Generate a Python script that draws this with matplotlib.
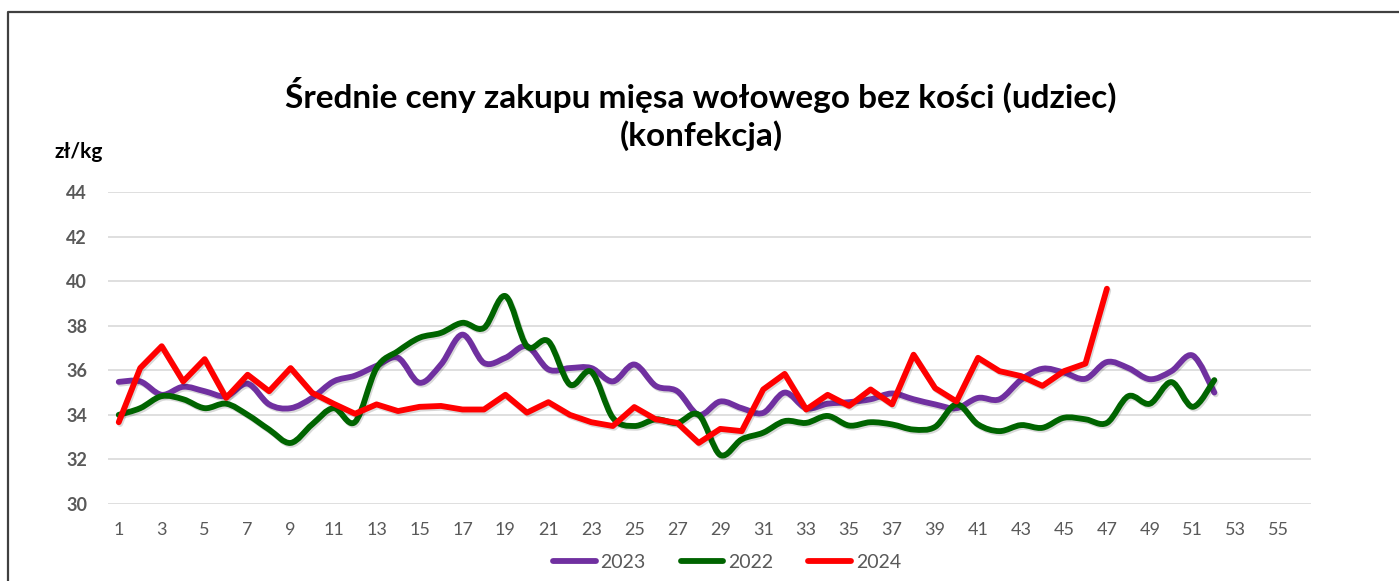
import matplotlib.pyplot as plt
import matplotlib.patheffects as pe
from matplotlib.path import Path
from matplotlib.patches import PathPatch
from matplotlib.lines import Line2D

plt.rcParams['font.family'] = ['Lato', 'DejaVu Sans']

# tygodnie i ceny (zł/kg)
weeks_2023 = list(range(1, 53))
ceny_2023 = [35.48, 35.5, 34.9, 35.26, 35.06, 34.84, 35.4, 34.47, 34.3, 34.76,
             35.5, 35.76, 36.2, 36.56, 35.44, 36.26, 37.6, 36.33, 36.56, 37.08,
             36.04, 36.1, 36.1, 35.5, 36.26, 35.3, 35.06, 34.0, 34.6, 34.3,
             34.09, 35.0, 34.3, 34.5, 34.57, 34.7, 34.96, 34.7, 34.47, 34.3,
             34.76, 34.7, 35.57, 36.07, 35.9, 35.62, 36.37, 36.1, 35.6, 35.96,
             36.66, 35.0]

weeks_2022 = list(range(1, 53))
ceny_2022 = [34.0, 34.3, 34.84, 34.7, 34.3, 34.5, 34.0, 33.34, 32.74, 33.57,
             34.3, 33.68, 36.1, 36.86, 37.46, 37.68, 38.13, 37.9, 39.33, 37.08,
             37.3, 35.36, 35.93, 33.87, 33.5, 33.8, 33.64, 34.0, 32.2, 32.9,
             33.2, 33.72, 33.64, 33.95, 33.52, 33.67, 33.57, 33.34, 33.46, 34.47,
             33.57, 33.27, 33.54, 33.42, 33.87, 33.8, 33.64, 34.84, 34.5, 35.47,
             34.36, 35.56]

weeks_2024 = list(range(1, 48))
ceny_2024 = [33.67, 36.1, 37.08, 35.5, 36.5, 34.76, 35.8, 35.06, 36.1, 34.99,
             34.5, 34.05, 34.47, 34.17, 34.36, 34.4, 34.24, 34.24, 34.9, 34.1,
             34.57, 34.0, 33.67, 33.5, 34.35, 33.8, 33.64, 32.74, 33.37, 33.27,
             35.14, 35.84, 34.24, 34.9, 34.4, 35.14, 34.47, 36.7, 35.2, 34.6,
             36.56, 35.96, 35.74, 35.3, 35.96, 36.3, 39.66]

x_ticks = list(range(1, 56, 2))
y_ticks = [30, 32, 34, 36, 38, 40, 42, 44]

FIOLET = '#7030A0'
ZIELEN = '#006400'
CZERWIEN = '#FF0000'
SZARY = '#595959'


def smooth_path(x, y):
    # krzywa Beziera przez punkty, jak "wygładzona linia" w Excelu
    pts = list(zip(x, y))
    verts = [pts[0]]
    codes = [Path.MOVETO]
    n = len(pts)
    for i in range(n - 1):
        p0 = pts[i - 1] if i > 0 else pts[i]
        p1 = pts[i]
        p2 = pts[i + 1]
        p3 = pts[i + 2] if i + 2 < n else pts[i + 1]
        c1 = (p1[0] + (p2[0] - p0[0]) / 6, p1[1] + (p2[1] - p0[1]) / 6)
        c2 = (p2[0] - (p3[0] - p1[0]) / 6, p2[1] - (p3[1] - p1[1]) / 6)
        verts += [c1, c2, p2]
        codes += [Path.CURVE4] * 3
    return Path(verts, codes)


cien = [pe.SimpleLineShadow(offset=(1.0, -1.3), shadow_color='black', alpha=0.15), pe.Normal()]
LW = 4.2

fig = plt.figure(figsize=(13.99, 5.81), dpi=100)
ax = fig.add_axes([108 / 1399, 1 - 504 / 581, (1311 - 108) / 1399, (504 - 192) / 581])

ax.add_patch(PathPatch(smooth_path(weeks_2023, ceny_2023), fill=False, edgecolor=FIOLET,
                       lw=LW, capstyle='round', joinstyle='round', path_effects=cien, zorder=3))
ax.add_patch(PathPatch(smooth_path(weeks_2022, ceny_2022), fill=False, edgecolor=ZIELEN,
                       lw=LW, capstyle='round', joinstyle='round', path_effects=cien, zorder=3))
ax.plot(weeks_2024, ceny_2024, color=CZERWIEN, lw=LW, solid_capstyle='round',
        solid_joinstyle='round', path_effects=cien, zorder=4)

ax.set_xlim(0.5, 56.5)
ax.set_ylim(30, 44)
ax.set_xticks(x_ticks)
ax.set_yticks(y_ticks)
ax.tick_params(length=0)
ax.tick_params(axis='x', labelsize=13, labelcolor=SZARY, pad=13)
ax.tick_params(axis='y', labelsize=13, labelcolor=SZARY, pad=15)
for lab in ax.get_yticklabels():
    lab.set_fontweight('bold')
ax.grid(axis='y', color='#D9D9D9', lw=1.2)
ax.set_axisbelow(True)
for s in ax.spines.values():
    s.set_visible(False)

fig.text(701 / 1399, 1 - 114 / 581,
         'Średnie ceny zakupu mięsa wołowego bez kości (udziec)\n(konfekcja)',
         ha='center', va='center', fontsize=24, fontweight='bold', linespacing=1.28)
fig.text(79 / 1399, 1 - 152 / 581, 'zł/kg', ha='center', va='center',
         fontsize=15, fontweight='bold')

handles = [Line2D([], [], color=FIOLET, lw=LW, solid_capstyle='round'),
           Line2D([], [], color=ZIELEN, lw=LW, solid_capstyle='round'),
           Line2D([], [], color=CZERWIEN, lw=LW, solid_capstyle='round')]
leg = fig.legend(handles, ['2023', '2022', '2024'], loc='center', ncol=3,
                 bbox_to_anchor=(727 / 1399, 1 - 562 / 581), frameon=False,
                 handlelength=2.2, handletextpad=0.25, columnspacing=1.8, fontsize=14)
for t in leg.get_texts():
    t.set_color(SZARY)

# ramka wykresu
fig.add_artist(Line2D([8 / 1399, 8 / 1399, 1.0], [-0.05, 1 - 11.5 / 581, 1 - 11.5 / 581],
                      transform=fig.transFigure, color='#404040', lw=1.6))

fig.savefig('out.png', dpi=100)
